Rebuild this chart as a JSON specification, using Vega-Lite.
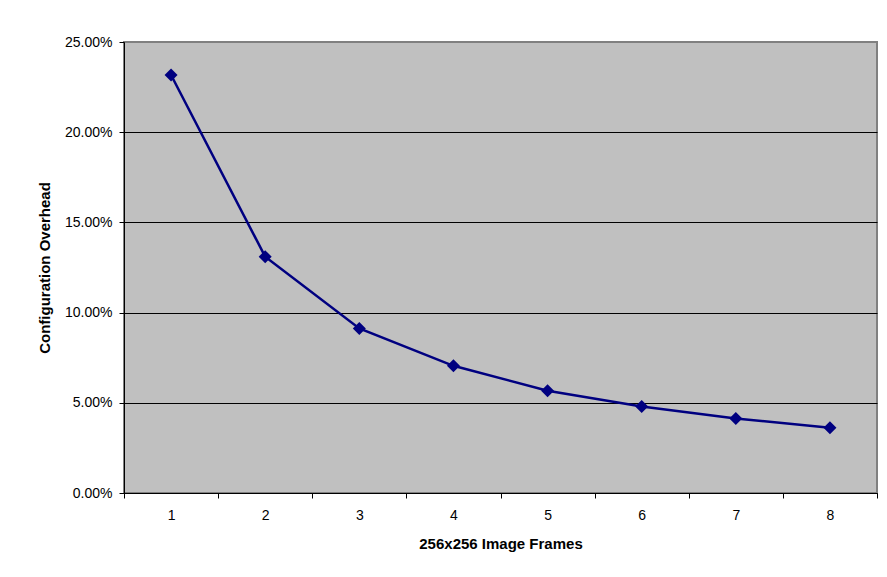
{
  "$schema": "https://vega.github.io/schema/vega-lite/v6.json",
  "width": 753,
  "height": 451,
  "autosize": {"type": "none"},
  "padding": {"left": 124, "top": 42, "right": 10, "bottom": 84},
  "background": "white",
  "config": {
    "font": "Liberation Sans",
    "view": {"fill": "#C0C0C0", "stroke": "#808080", "strokeWidth": 2},
    "axis": {
      "labelFont": "Liberation Sans",
      "titleFont": "Liberation Sans",
      "labelFontSize": 14,
      "labelColor": "black",
      "titleFontSize": 15,
      "titleFontWeight": "bold",
      "titleColor": "black",
      "domainColor": "black",
      "domainWidth": 1,
      "tickColor": "black",
      "tickSize": 5
    }
  },
  "data": {
    "values": [
      {"frames": "1", "overhead": 0.2317},
      {"frames": "2", "overhead": 0.131},
      {"frames": "3", "overhead": 0.0912},
      {"frames": "4", "overhead": 0.0705},
      {"frames": "5", "overhead": 0.0567},
      {"frames": "6", "overhead": 0.0479},
      {"frames": "7", "overhead": 0.0413},
      {"frames": "8", "overhead": 0.0362}
    ]
  },
  "encoding": {
    "x": {
      "field": "frames",
      "type": "ordinal",
      "scale": {"type": "band", "paddingInner": 0, "paddingOuter": 0},
      "axis": {
        "title": "256x256 Image Frames",
        "labelAngle": 0,
        "tickBand": "extent",
        "grid": false,
        "labelPadding": 10,
        "titlePadding": 14
      }
    },
    "y": {
      "field": "overhead",
      "type": "quantitative",
      "scale": {"domain": [0, 0.25], "nice": false, "zero": true},
      "axis": {
        "title": "Configuration Overhead",
        "format": ".2%",
        "values": [0, 0.05, 0.1, 0.15, 0.2, 0.25],
        "grid": true,
        "gridColor": {"condition": {"test": "datum.value >= 0.25", "value": "#808080"}, "value": "black"},
        "gridWidth": 1,
        "labelPadding": 7,
        "titlePadding": 12
      }
    }
  },
  "layer": [
    {"mark": {"type": "line", "color": "#000080", "strokeWidth": 2.5}},
    {"mark": {"type": "point", "shape": "diamond", "filled": true, "color": "#000080", "opacity": 1, "size": 170}}
  ]
}
